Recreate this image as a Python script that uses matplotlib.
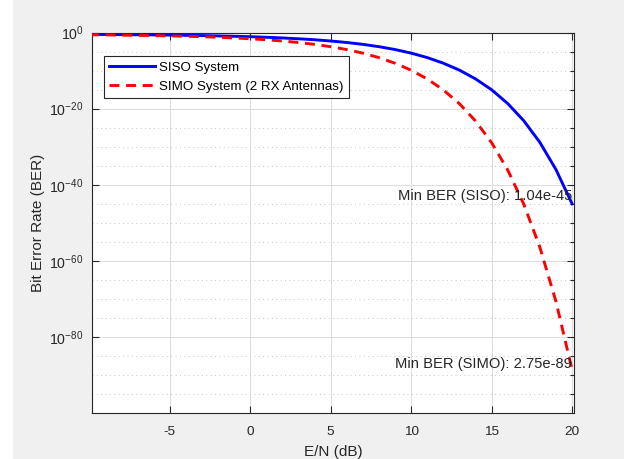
import numpy as np
import matplotlib
matplotlib.use("Agg")
import matplotlib.pyplot as plt
from matplotlib.patches import Rectangle
from matplotlib.ticker import FixedLocator, FixedFormatter, NullFormatter

plt.rcParams['font.family'] = ['Liberation Sans', 'DejaVu Sans']
plt.rcParams['mathtext.fontset'] = 'custom'
plt.rcParams['mathtext.rm'] = 'Liberation Sans'
plt.rcParams['mathtext.default'] = 'regular'
plt.rcParams['axes.unicode_minus'] = False

# Eb/N0 in dB
ebn0_db = [-10, -9, -8, -7, -6, -5, -4, -3, -2, -1, 0, 1, 2, 3, 4, 5,
           6, 7, 8, 9, 10, 11, 12, 13, 14, 15, 16, 17, 18, 19, 20]

# log10(BER)
siso_log_ber = [-0.49, -0.52, -0.56, -0.60, -0.63, -0.67, -0.74, -0.81, -0.89, -0.99, -1.10,
                -1.25, -1.43, -1.65, -1.90, -2.23, -2.62, -3.11, -3.72, -4.47, -5.41,
                -6.58, -8.05, -9.88, -12.17, -15.03, -18.64, -23.17, -28.85, -36.00, -44.98]
simo_log_ber = [-0.58, -0.63, -0.69, -0.74, -0.81, -0.89, -0.99, -1.10, -1.25, -1.43, -1.64,
                -1.90, -2.23, -2.62, -3.11, -3.72, -4.48, -5.42, -6.59, -8.06, -9.89,
                -12.19, -15.07, -18.68, -23.22, -28.92, -36.08, -45.08, -56.40, -70.65, -88.56]

min_siso = 1.04e-45
min_simo = 2.75e-89

x = np.array(ebn0_db)
siso = 10.0 ** np.array(siso_log_ber)
simo = 10.0 ** np.array(simo_log_ber)

fig = plt.figure(figsize=(6.24, 4.59), dpi=100, facecolor='#f0f0f0')
# white strip at the left edge of the screenshot
fig.patches.append(Rectangle((0, 0), 13 / 624, 1, transform=fig.transFigure,
                             facecolor='white', edgecolor='none', zorder=-1))

ax = fig.add_axes([92 / 624, 1 - 413.3 / 459, (574 - 92) / 624, (413.3 - 32.5) / 459])
ax.set_facecolor('white')

ax.semilogy(x, siso, color='#0000ff', lw=2.1, label='SISO System', zorder=3)
ax.semilogy(x, simo, color='#ff0000', lw=2.1, dashes=(3.4, 2.3),
            label='SIMO System (2 RX Antennas)', zorder=3)

ax.set_xlim(-9.82, 20.12)
ax.set_ylim(1e-100, 1)

ax.set_xticks([-5, 0, 5, 10, 15, 20])
ax.yaxis.set_major_locator(FixedLocator([1e0, 1e-20, 1e-40, 1e-60, 1e-80]))
ax.yaxis.set_major_formatter(FixedFormatter([r'$10^{0}$', r'$10^{-20}$', r'$10^{-40}$',
                                             r'$10^{-60}$', r'$10^{-80}$']))
minor = [10.0 ** (-k) for k in range(5, 100, 5) if k % 20 != 0]
ax.yaxis.set_minor_locator(FixedLocator(minor))
ax.yaxis.set_minor_formatter(NullFormatter())

ax.grid(True, which='major', color='#dcdcdc', lw=0.7, ls='-', zorder=0)
ax.grid(True, which='minor', axis='y', color='#c8c8c8', lw=0.7, ls=(0, (1, 3.5)), zorder=0)

ax.tick_params(which='major', direction='in', length=5, width=0.8, colors='#262626',
               top=True, right=True)
ax.tick_params(axis='x', pad=9, labelsize=9.7)
ax.tick_params(axis='y', pad=6, labelsize=10.2)
ax.tick_params(which='minor', direction='in', length=3, width=0.8, colors='#262626',
               left=False, right=True)
for s in ax.spines.values():
    s.set_color('#262626')
    s.set_linewidth(0.8)

ax.set_xlabel('E/N (dB)', fontsize=11, color='#262626', labelpad=5)
ax.set_ylabel('Bit Error Rate (BER)', fontsize=11, color='#262626', labelpad=3)

ax.text(20, min_siso * 10 ** 0.1, f'Min BER (SISO): {min_siso:.2e}', ha='right', va='bottom',
        fontsize=10.6, color='#262626', zorder=4)
ax.text(20, min_simo * 10 ** -0.4, f'Min BER (SIMO): {min_simo:.2e}', ha='right', va='bottom',
        fontsize=10.6, color='#262626', zorder=4)

leg = ax.legend(loc='upper left', bbox_to_anchor=(12 / 482, 1 - 23.5 / 381), borderaxespad=0,
                fontsize=9.6, fancybox=False, framealpha=1, edgecolor='#262626',
                handlelength=3.4, handletextpad=0.3, labelspacing=0.5, borderpad=0.4)
leg.get_frame().set_linewidth(0.8)

fig.savefig('out.png', dpi=100, facecolor=fig.get_facecolor())
